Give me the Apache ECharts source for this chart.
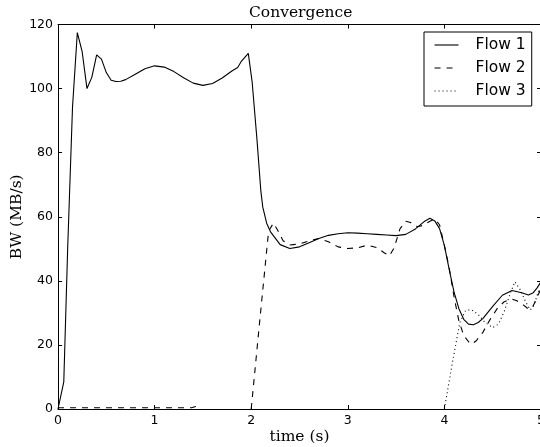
<!DOCTYPE html>
<html>
<head>
<meta charset="utf-8">
<script src="https://cdn.jsdelivr.net/npm/echarts@6/dist/echarts.min.js"></script>
<style>
  html, body { margin: 0; padding: 0; background: #ffffff; }
  #chart { width: 540px; height: 447px; }
</style>
</head>
<body>
<div id="chart"></div>
<script>
// Per-flow bandwidth samples (time in seconds, bandwidth in MB/s)
const seriesNames = ['Flow 1', 'Flow 2', 'Flow 3'];

const flow1Time = [0, 0.06, 0.1, 0.15, 0.2, 0.25, 0.3, 0.35, 0.4, 0.45, 0.5, 0.55, 0.6, 0.65, 0.7, 0.8, 0.9,
  1.0, 1.1, 1.2, 1.3, 1.4, 1.5, 1.6, 1.7, 1.8, 1.86, 1.9, 1.97, 2.01, 2.06, 2.1, 2.12, 2.16, 2.2, 2.3, 2.4,
  2.5, 2.6, 2.7, 2.8, 2.9, 3.0, 3.1, 3.2, 3.3, 3.4, 3.5, 3.6, 3.7, 3.8, 3.85, 3.9, 3.95, 4.0, 4.05, 4.1,
  4.15, 4.2, 4.25, 4.3, 4.35, 4.4, 4.5, 4.6, 4.7, 4.8, 4.87, 4.92, 4.96, 5.0];
const flow1BW = [0, 8.5, 50, 94, 117.5, 111.5, 100, 103.5, 110.5, 109.2, 105, 102.6, 102.2, 102.3, 102.8, 104.5, 106.2,
  107.1, 106.7, 105.3, 103.4, 101.7, 101, 101.6, 103.3, 105.5, 106.6, 108.6, 111, 102, 84, 68, 63, 58, 55.3, 51.3, 50.1,
  50.6, 51.9, 53.2, 54.2, 54.7, 55, 54.9, 54.7, 54.5, 54.3, 54.1, 54.5, 56.2, 58.7, 59.5, 58.7, 56.3, 51, 43.5, 36.5,
  31.3, 28, 26.5, 26.3, 27, 28.3, 32, 35.5, 37, 36.3, 35.6, 36.3, 37.8, 39.7];

// null marks a gap in the record
const flow2Time = [0, 0.5, 1.0, 1.38, 1.43, 1.47, 1.7, 2.0, 2.09, 2.18, 2.23, 2.27, 2.33, 2.4, 2.5, 2.6, 2.7, 2.8,
  2.9, 3.0, 3.1, 3.2, 3.3, 3.38, 3.43, 3.48, 3.54, 3.6, 3.65, 3.72, 3.78, 3.85, 3.9, 3.95, 4.0, 4.05, 4.1,
  4.15, 4.2, 4.25, 4.28, 4.33, 4.4, 4.47, 4.55, 4.62, 4.7, 4.75, 4.82, 4.87, 4.92, 4.96, 5.0];
const flow2BW = [0.4, 0.4, 0.4, 0.4, 0.8, 0.4, null, 0, 28, 55.5, 58, 56, 52.5, 51.2, 51.5, 52.5, 53.2, 52.2,
  50.6, 50.1, 50.3, 51.1, 50.4, 48.7, 47.8, 50.3, 56.2, 58.6, 58.2, 56.9, 57.3, 58.6, 59.3, 57.5, 51, 44, 35,
  27.5, 23, 21, 20.2, 21.3, 24, 27.8, 31.5, 33.5, 34.3, 33.8, 32.4, 31.2, 32.2, 35, 37.5];

const flow3Time = [4.0, 4.08, 4.16, 4.22, 4.28, 4.35, 4.42, 4.5, 4.56, 4.62, 4.68, 4.73, 4.78, 4.84, 4.89,
  4.93, 4.97, 5.0];
const flow3BW = [0, 14, 27, 30.8, 31, 29.5, 27, 25.4, 26.5, 30.5, 36, 39.7, 37.5, 33.5, 30.9, 32.5, 36.5, 38];

const xTicks = { min: 0, max: 5, step: 1 };
const yTicks = { min: 0, max: 120, step: 20 };

function pairs(times, values) {
  return times.map((t, i) => [t, values[i] === null ? '-' : values[i]]);
}

const sansFont = 'DejaVu Sans';
const serifFont = 'DejaVu Serif';

const chart = echarts.init(document.getElementById('chart'), null, { renderer: 'canvas' });

function frameAxis(extra) {
  return Object.assign({
    type: 'value',
    axisLine: { show: true, onZero: false, lineStyle: { color: '#000', width: 1 } },
    axisTick: { show: true, inside: true, length: 4, lineStyle: { color: '#000', width: 1 } },
    splitLine: { show: false },
    axisLabel: { show: false }
  }, extra);
}

const lineCommon = {
  type: 'line',
  symbol: 'none',
  showSymbol: false,
  smooth: false,
  connectNulls: false,
  animation: false,
  xAxisIndex: 0,
  yAxisIndex: 0
};

chart.setOption({
  backgroundColor: '#ffffff',
  animation: false,
  title: {
    text: 'Convergence',
    left: 249,
    top: 5,
    padding: 0,
    textStyle: { fontFamily: serifFont, fontSize: 15.5, fontWeight: 'normal', color: '#000' }
  },
  legend: {
    data: seriesNames,
    orient: 'vertical',
    left: 424,
    top: 32,
    padding: [5, 6, 7, 10],
    itemWidth: 24,
    itemHeight: 16,
    itemGap: 7,
    borderColor: '#000',
    borderWidth: 1,
    backgroundColor: '#fff',
    selectedMode: false,
    itemStyle: { opacity: 0, color: 'transparent', borderWidth: 0 },
    lineStyle: { width: 1.1 },
    textStyle: { fontFamily: sansFont, fontSize: 15.5, color: '#000', padding: [0, 0, 0, 12], lineHeight: 16 }
  },
  grid: { left: 58, top: 24.5, width: 483, height: 384.5, containLabel: false, outerBoundsMode: 'none' },
  xAxis: [
    frameAxis({
      position: 'bottom',
      min: xTicks.min, max: xTicks.max, interval: xTicks.step,
      name: 'time (s)',
      nameLocation: 'middle',
      nameGap: 20,
      nameMoveOverlap: false,
      nameTextStyle: { fontFamily: serifFont, fontSize: 15.5, color: '#000' },
      axisLabel: { show: true, margin: 5, fontFamily: sansFont, fontSize: 12.5, color: '#000' }
    }),
    frameAxis({ position: 'top', min: xTicks.min, max: xTicks.max, interval: xTicks.step })
  ],
  yAxis: [
    frameAxis({
      position: 'left',
      min: yTicks.min, max: yTicks.max, interval: yTicks.step,
      name: 'BW (MB/s)',
      nameLocation: 'middle',
      nameGap: 33,
      nameMoveOverlap: false,
      nameTextStyle: { fontFamily: serifFont, fontSize: 15.5, color: '#000' },
      axisLabel: { show: true, margin: 5, fontFamily: sansFont, fontSize: 12.5, color: '#000' }
    }),
    frameAxis({ position: 'right', min: yTicks.min, max: yTicks.max, interval: yTicks.step })
  ],
  series: [
    Object.assign({}, lineCommon, {
      name: seriesNames[0],
      data: pairs(flow1Time, flow1BW),
      lineStyle: { color: '#000', width: 1.1, type: 'solid' },
      itemStyle: { color: '#000' }
    }),
    Object.assign({}, lineCommon, {
      name: seriesNames[1],
      data: pairs(flow2Time, flow2BW),
      lineStyle: { color: '#000', width: 1.1, type: [6, 6] },
      itemStyle: { color: '#000' }
    }),
    Object.assign({}, lineCommon, {
      name: seriesNames[2],
      data: pairs(flow3Time, flow3BW),
      lineStyle: { color: '#000', width: 1.1, type: [1, 3] },
      itemStyle: { color: '#000' }
    })
  ]
});
</script>
</body>
</html>
